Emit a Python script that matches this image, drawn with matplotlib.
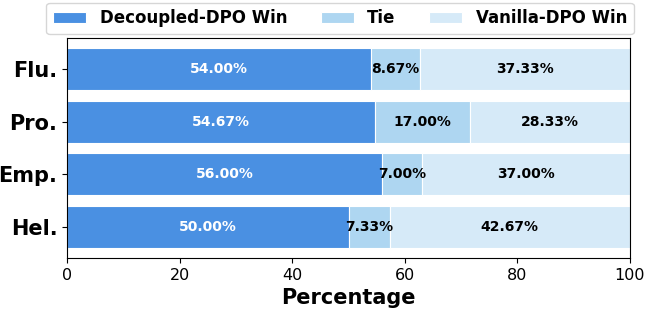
import matplotlib.pyplot as plt
import numpy as np

# Data
categories = ["Flu.", "Pro.", "Emp.", "Hel."]
decoupled_win = [54.00, 54.67, 56.00, 50.00]
tie = [8.67, 17.00, 7.00, 7.33]
vanilla_win = [37.33, 28.33, 37.00, 42.67]
series_names = ["Decoupled-DPO Win", "Tie", "Vanilla-DPO Win"]
colors = ["#4a90e2", "#aed6f1", "#d6eaf8"]

fig, ax = plt.subplots(figsize=(6.46, 3.10), dpi=100)

y = np.arange(len(categories))
left = np.zeros(len(categories))
for vals, name, c in zip([decoupled_win, tie, vanilla_win], series_names, colors):
    bars = ax.barh(y, vals, left=left, color=c, edgecolor="white", linewidth=0.8,
                   height=0.8, label=name)
    txt_color = "white" if name == series_names[0] else "black"
    for b, v in zip(bars, vals):
        ax.text(b.get_x() + b.get_width() / 2, b.get_y() + b.get_height() / 2,
                f"{v:.2f}%", ha="center", va="center", color=txt_color,
                fontsize=10, fontweight="bold")
    left += np.array(vals)

ax.set_yticks(y)
ax.set_yticklabels(categories, fontsize=15, fontweight="bold")
ax.invert_yaxis()
ax.set_xlim(0, 100)
ax.set_xticks([0, 20, 40, 60, 80, 100])
ax.tick_params(axis="x", labelsize=11.5)
ax.set_xlabel("Percentage", fontsize=15, fontweight="bold")

ax.legend(loc="upper center", bbox_to_anchor=(0.485, 1.2), ncol=3,
          prop={"weight": "bold", "size": 12})

fig.subplots_adjust(left=0.104, right=0.975, top=0.877, bottom=0.168)
fig.savefig("out.png")
